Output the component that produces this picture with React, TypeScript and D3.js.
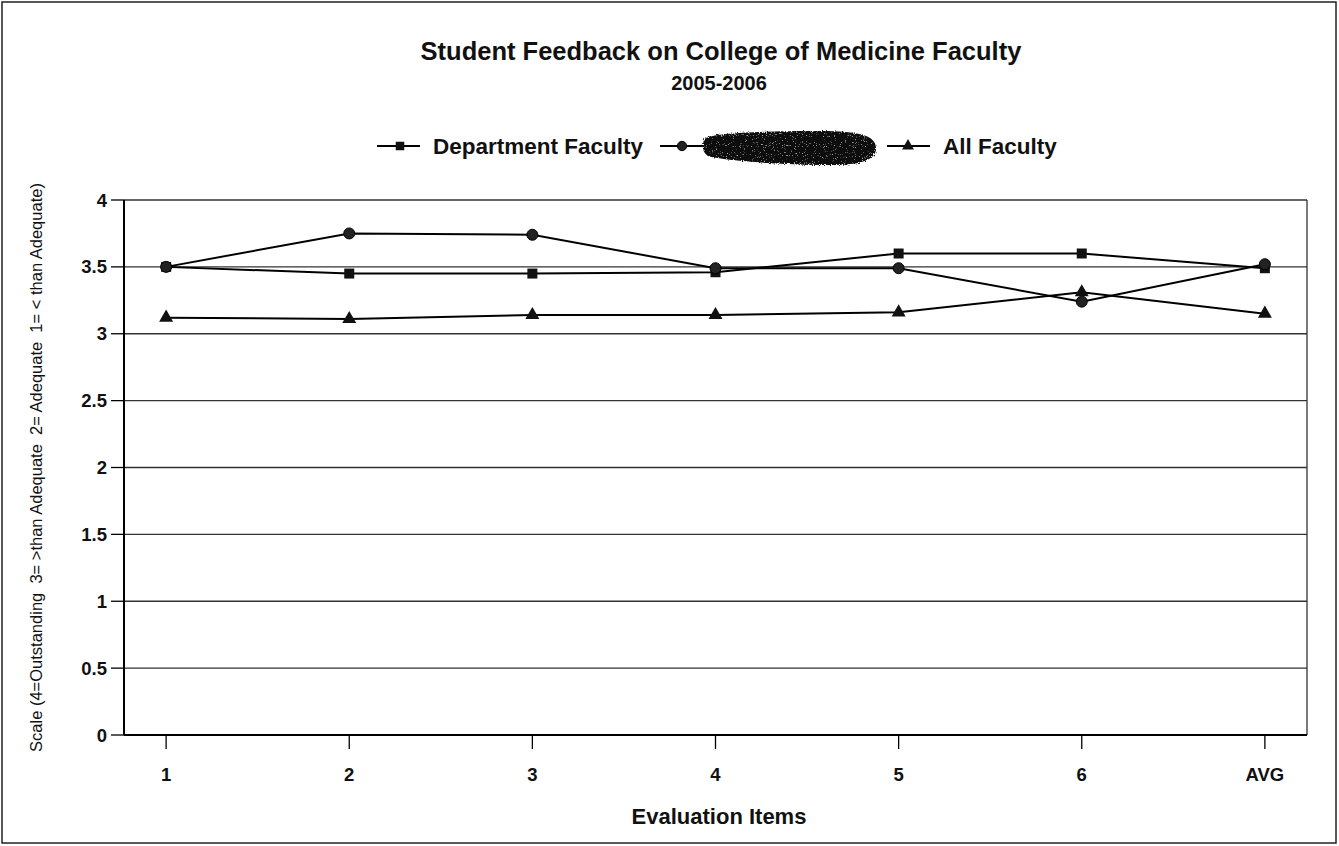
import React from 'react';
import * as d3 from 'd3';

// evaluation items on the x axis
const items = ['1', '2', '3', '4', '5', '6', 'AVG'];

// values
const departmentFaculty = [3.5, 3.45, 3.45, 3.46, 3.6, 3.6, 3.49];
const redactedFaculty = [3.5, 3.75, 3.74, 3.49, 3.49, 3.24, 3.52];
const allFaculty = [3.12, 3.11, 3.14, 3.14, 3.16, 3.31, 3.15];

const yTicks = [0, 0.5, 1, 1.5, 2, 2.5, 3, 3.5, 4];

const width = 1339;
const height = 846;
const plot = { left: 124, right: 1307, top: 200, bottom: 735 };
const font = 'Arial, "Liberation Sans", Helvetica, sans-serif';

type Shape = 'square' | 'circle' | 'triangle';

const Marker: React.FC<{ shape: Shape; x: number; y: number; small?: boolean }> = ({ shape, x, y, small }) => {
  const k = small ? 0.85 : 1;
  if (shape === 'square') return <rect x={x - 5 * k} y={y - 5 * k} width={10 * k} height={10 * k} fill="#111" />;
  if (shape === 'circle') return <circle cx={x} cy={y} r={5.5 * k} fill="#222" stroke="#000" strokeWidth={1} />;
  const tri = d3.symbol(d3.symbolTriangle, 85 * k * k)() || '';
  return <path d={tri} transform={`translate(${x},${y})`} fill="#111" />;
};

const App: React.FC = () => {
  const x = d3.scalePoint<string>().domain(items).range([plot.left, plot.right]).padding(0.23);
  const y = d3.scaleLinear().domain([0, 4]).range([plot.bottom, plot.top]);

  const line = d3.line<number>()
    .x((_, i) => x(items[i])!)
    .y(d => y(d));

  const series: { values: number[]; shape: Shape }[] = [
    { values: departmentFaculty, shape: 'square' },
    { values: redactedFaculty, shape: 'circle' },
    { values: allFaculty, shape: 'triangle' },
  ];

  // the scribbled-out legend entry
  const blob = 'M704,140 C706,133 760,131 820,131 C860,131 876,136 876,148 C876,160 862,166 820,165 C770,164 720,160 708,156 C702,152 702,145 704,140 Z';

  return (
    <svg width={width} height={height} style={{ position: 'absolute', left: 0, top: 0, background: '#fff' }} fontFamily={font}>
      <defs>
        <filter id="scribble" x="-5%" y="-20%" width="110%" height="140%">
          <feTurbulence type="fractalNoise" baseFrequency="0.9" numOctaves={2} seed={3} result="noise" />
          <feDisplacementMap in="SourceGraphic" in2="noise" scale={4} result="rough" />
          <feColorMatrix in="noise" type="matrix"
            values="0 0 0 0 0.4  0 0 0 0 0.4  0 0 0 0 0.4  0 0 0 6 -3.9" result="speck" />
          <feComposite in="speck" in2="rough" operator="in" result="speckIn" />
          <feMerge>
            <feMergeNode in="rough" />
            <feMergeNode in="speckIn" />
          </feMerge>
        </filter>
      </defs>

      <rect x={2} y={2} width={width - 5} height={height - 5} fill="none" stroke="#222" strokeWidth={1.5} />

      <text x={721} y={60} textAnchor="middle" fontSize={25.5} fontWeight="bold" fill="#111">
        Student Feedback on College of Medicine Faculty
      </text>
      <text x={719} y={90} textAnchor="middle" fontSize={20} fontWeight="bold" fill="#111">2005-2006</text>

      {/* legend */}
      <g fontSize={22.5} fontWeight="bold" fill="#111">
        <line x1={377} x2={420} y1={146} y2={146} stroke="#000" strokeWidth={2} />
        <Marker shape="square" x={400} y={146} small />
        <text x={433} y={154}>Department Faculty</text>
        <line x1={660} x2={707} y1={146} y2={146} stroke="#000" strokeWidth={2} />
        <Marker shape="circle" x={682} y={146} small />
        <path d={blob} fill="#111" filter="url(#scribble)" />
        <line x1={887} x2={930} y1={146} y2={146} stroke="#000" strokeWidth={2} />
        <Marker shape="triangle" x={908} y={146} small />
        <text x={943} y={154}>All Faculty</text>
      </g>

      {/* grid */}
      {yTicks.filter(t => t > 0).map(t => (
        <line key={t} x1={plot.left} x2={plot.right} y1={y(t)} y2={y(t)} stroke="#333" strokeWidth={1.3} />
      ))}
      <line x1={plot.right} x2={plot.right} y1={plot.top} y2={plot.bottom} stroke="#333" strokeWidth={1.3} />

      {/* y axis */}
      <line x1={plot.left} x2={plot.left} y1={plot.top} y2={plot.bottom} stroke="#000" strokeWidth={2} />
      {yTicks.map(t => (
        <g key={t}>
          <line x1={plot.left - 13} x2={plot.left} y1={y(t)} y2={y(t)} stroke="#000" strokeWidth={1.3} />
          <text x={plot.left - 17} y={y(t) + 6.5} textAnchor="end" fontSize={18.5} fontWeight="bold" fill="#111">{t}</text>
        </g>
      ))}
      <text transform={`translate(42,${(plot.top + plot.bottom) / 2}) rotate(-90)`} textAnchor="middle"
        fontSize={16.5} fill="#111" style={{ whiteSpace: 'pre' }}>
        {'Scale (4=Outstanding  3= >than Adequate  2= Adequate  1= < than Adequate)'}
      </text>

      {/* x axis */}
      <line x1={plot.left} x2={plot.right} y1={plot.bottom} y2={plot.bottom} stroke="#000" strokeWidth={2} />
      {items.map(d => (
        <g key={d}>
          <line x1={x(d)!} x2={x(d)!} y1={plot.bottom} y2={plot.bottom + 14} stroke="#000" strokeWidth={1.3} />
          <text x={x(d)!} y={plot.bottom + 46} textAnchor="middle" fontSize={18.5} fontWeight="bold" fill="#111">{d}</text>
        </g>
      ))}
      <text x={719} y={824} textAnchor="middle" fontSize={22} fontWeight="bold" fill="#111">Evaluation Items</text>

      {/* series */}
      {series.map(s => (
        <g key={s.shape}>
          <path d={line(s.values) || ''} fill="none" stroke="#000" strokeWidth={2} />
          {s.values.map((v, i) => (
            <Marker key={i} shape={s.shape} x={x(items[i])!} y={y(v)} />
          ))}
        </g>
      ))}
    </svg>
  );
};

export default App;
